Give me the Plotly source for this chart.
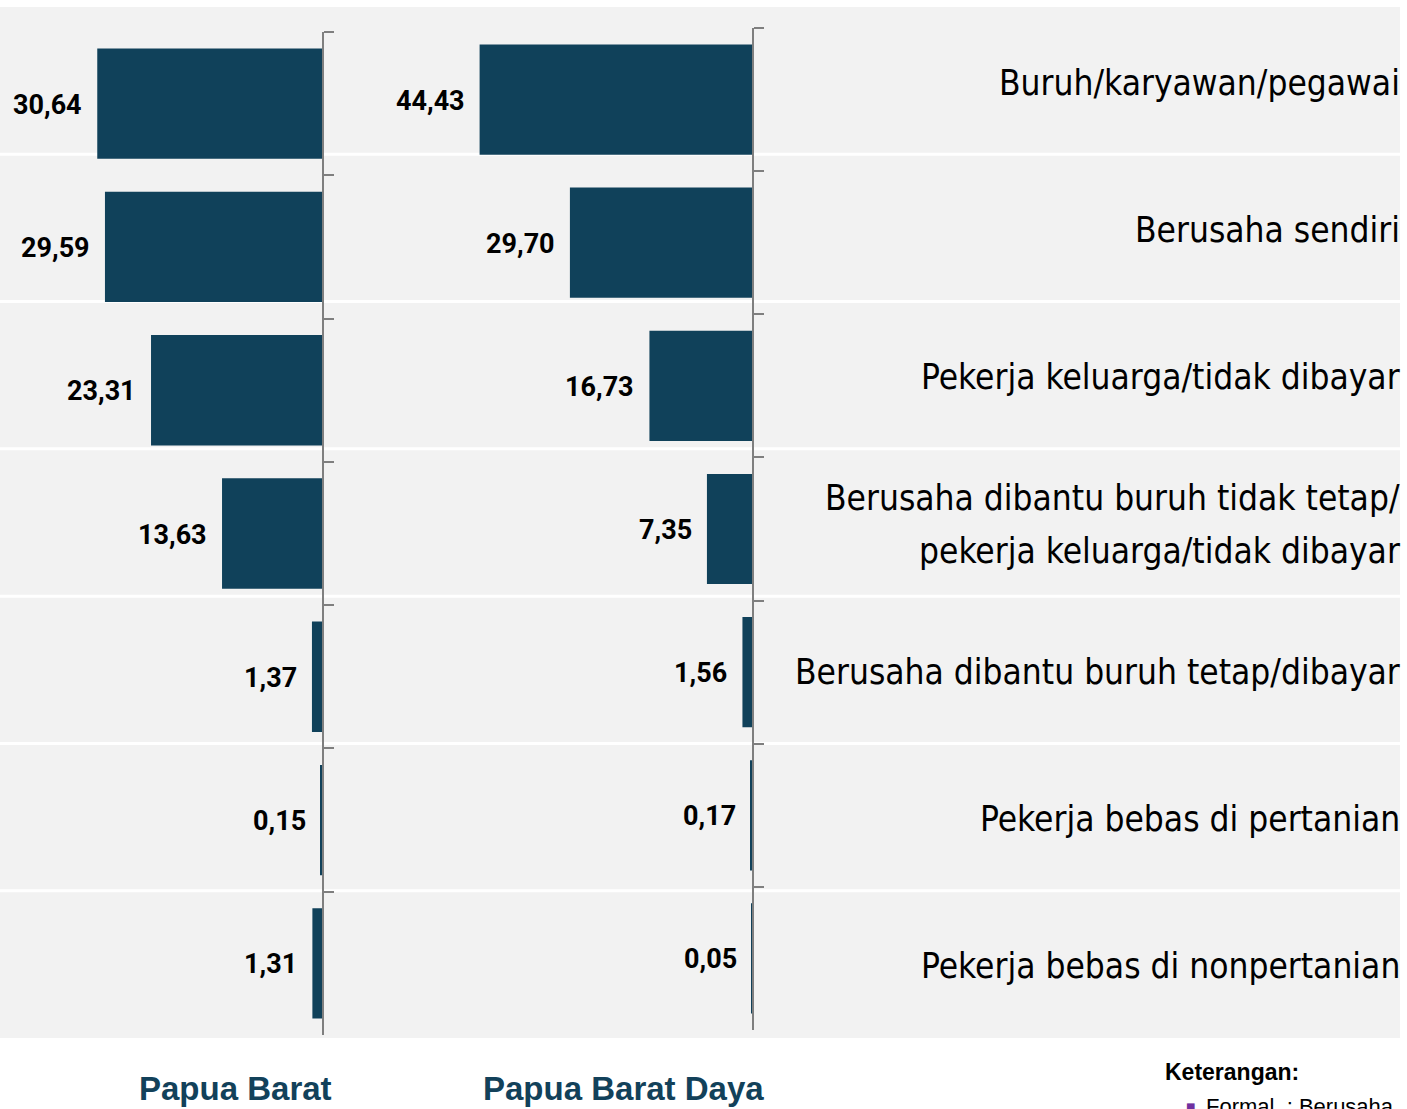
import plotly.graph_objects as go

W, H = 1407, 1109

categories = [
    "Buruh/karyawan/pegawai",
    "Berusaha sendiri",
    "Pekerja keluarga/tidak dibayar",
    "Berusaha dibantu buruh tidak tetap/<br>pekerja keluarga/tidak dibayar",
    "Berusaha dibantu buruh tetap/dibayar",
    "Pekerja bebas di pertanian",
    "Pekerja bebas di nonpertanian",
]
papua_barat = [30.64, 29.59, 23.31, 13.63, 1.37, 0.15, 1.31]
papua_barat_daya = [44.43, 29.70, 16.73, 7.35, 1.56, 0.17, 0.05]
panel_titles = ["Papua Barat", "Papua Barat Daya"]

BAR = "#10415a"
COND = "DejaVu Sans Condensed, Roboto, Liberation Sans, Arial"
VALF = "Roboto, Liberation Sans, Arial"
px = lambda v: v / W
py = lambda v: 1 - v / H

fig = go.Figure()
fig.add_trace(go.Bar(y=categories, x=papua_barat, orientation="h", marker_color=BAR,
                     marker_line_width=0, xaxis="x", yaxis="y", showlegend=False,
                     hoverinfo="skip"))
fig.add_trace(go.Bar(y=categories, x=papua_barat_daya, orientation="h", marker_color=BAR,
                     marker_line_width=0, xaxis="x2", yaxis="y2", showlegend=False,
                     hoverinfo="skip"))

def fmt(v):
    return f"{v:.2f}".replace(".", ",")

ann = []
for c, v in zip(categories, papua_barat):
    ann.append(dict(x=v, y=c, xref="x", yref="y", text=fmt(v), showarrow=False,
                    xanchor="right", yanchor="middle", xshift=-13, yshift=-1,
                    font=dict(family=VALF, size=27, color="#000000", weight="bold")))
for c, v in zip(categories, papua_barat_daya):
    ann.append(dict(x=v, y=c, xref="x2", yref="y2", text=fmt(v), showarrow=False,
                    xanchor="right", yanchor="middle", xshift=-13, yshift=-1,
                    font=dict(family=VALF, size=27, color="#000000", weight="bold")))

# background band and row separators
band_top, band_bot = 7, 1038
row_h = (band_bot - band_top) / len(categories)
shapes = [dict(type="rect", xref="paper", yref="paper", x0=0, x1=px(1400),
               y0=py(band_bot), y1=py(band_top), fillcolor="#f2f2f2",
               line_width=0, layer="below")]
for k in range(1, len(categories)):
    yy = band_top + k * row_h
    shapes.append(dict(type="line", xref="paper", yref="paper", x0=0, x1=px(1400),
                       y0=py(yy), y1=py(yy), line=dict(color="#ffffff", width=3),
                       layer="below"))

for i, c in enumerate(categories):
    yc = band_top + (i + 0.5) * row_h + 2
    lines = c.split("<br>")
    n = len(lines)
    for j, line in enumerate(lines):
        yl = yc + (j - (n - 1) / 2) * 52
        ann.append(dict(x=px(1402), y=py(yl), xref="paper", yref="paper", text=line,
                        showarrow=False, xanchor="right", yanchor="middle", align="right",
                        font=dict(family=COND, size=35, color="#000000")))

ann.append(dict(x=px(236), y=py(1088), xref="paper", yref="paper", text=panel_titles[0],
                showarrow=False, xanchor="center", yanchor="middle",
                font=dict(family="Liberation Sans, Arial", size=33, color="#12415a", weight="bold")))
ann.append(dict(x=px(623), y=py(1088), xref="paper", yref="paper", text=panel_titles[1],
                showarrow=False, xanchor="center", yanchor="middle",
                font=dict(family="Liberation Sans, Arial", size=33, color="#12415a", weight="bold")))
ann.append(dict(x=px(1163), y=py(1072), xref="paper", yref="paper", text="Keterangan:",
                showarrow=False, xanchor="left", yanchor="middle",
                font=dict(family="Liberation Sans, Arial", size=23, color="#000000", weight="bold")))
ann.append(dict(x=px(1190), y=py(1106), xref="paper", yref="paper", text="■",
                showarrow=False, xanchor="center", yanchor="middle",
                font=dict(family="DejaVu Sans", size=10, color="#7030a0")))
ann.append(dict(x=px(1204), y=py(1106), xref="paper", yref="paper",
                text="Formal  : Berusaha",
                showarrow=False, xanchor="left", yanchor="middle",
                font=dict(family="Liberation Sans, Arial", size=22, color="#000000")))

axis_common = dict(showgrid=False, zeroline=False, showticklabels=False)
yaxis_common = dict(type="category", autorange="reversed", showline=True,
                    linecolor="#7f7f7f", linewidth=2, ticks="outside", ticklen=10,
                    tickcolor="#7f7f7f", tickwidth=2, tickson="boundaries",
                    showticklabels=False, showgrid=False, zeroline=False, side="right")

fig.update_layout(
    width=W, height=H, margin=dict(l=0, r=0, t=0, b=0),
    paper_bgcolor="#ffffff", plot_bgcolor="rgba(0,0,0,0)",
    bargap=0.23,
    xaxis=dict(domain=[0, px(322)], range=[43.9, 0], **axis_common),
    xaxis2=dict(domain=[px(340), px(752)], range=[67.2, 0], anchor="y2", **axis_common),
    yaxis=dict(domain=[py(1035), py(32)], anchor="x", **yaxis_common),
    yaxis2=dict(domain=[py(1030), py(28)], anchor="x2", **yaxis_common),
    shapes=shapes, annotations=ann,
)

fig.write_html("out.html", config={"displayModeBar": False},
               post_script="document.body.style.margin='0';")
